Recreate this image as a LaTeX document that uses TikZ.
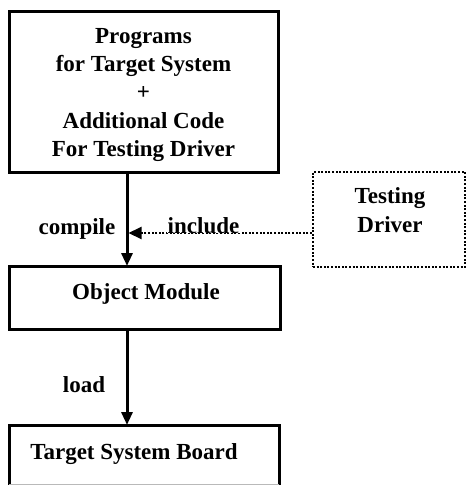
\documentclass[tikz,border=0pt]{standalone}
\usepackage{fontspec}
\setmainfont{Liberation Serif}
\usetikzlibrary{arrows.meta}
\begin{document}
\begin{tikzpicture}[x=1pt,y=-1pt,
  every node/.style={font=\fontsize{23}{28.3}\selectfont\bfseries, inner sep=0pt},
  solidbox/.style={draw, line width=3pt, align=center},
  dotbox/.style={draw, line width=2pt, dash pattern=on 2pt off 1.6pt, align=center},
  flow/.style={line width=3pt, -{Triangle[length=13pt,width=11pt]}},
  incl/.style={line width=2pt, dash pattern=on 2pt off 1.6pt, -{Triangle[length=13pt,width=12pt]}},
  lbl/.style={anchor=base}
]
\useasboundingbox (0,0) rectangle (466,487);

% main boxes
\node[solidbox, minimum width=269pt, minimum height=160pt] (prog) at (143.5,92) {};
\node[align=center] (progtxt) at (143.5,95)
  {Programs\\for Target System\\+\\Additional Code\\For Testing Driver};
\node[solidbox, minimum width=271pt, minimum height=63pt] (obj) at (144.5,297.5) {};
\node[anchor=base] (objtxt) at (146,299) {Object Module};
\node[dotbox, minimum width=152pt, minimum height=95pt] (tdrv) at (389,219.5) {};
\node[align=center] (tdrvtxt) at (390,210) {Testing\\Driver};

% target board box (bottom edge faint)
\coordinate (tb-nw) at (9,425);
\coordinate (tb-ne) at (279,425);
\coordinate (tb-sw) at (9,484.5);
\coordinate (tb-se) at (279,484.5);
\draw[line width=3pt] (tb-sw) -- (tb-nw) -- (tb-ne) -- (tb-se);
\draw[line width=1pt, gray!55] (tb-sw) -- (tb-se);
\node[anchor=base] (tbtxt) at (134,459) {Target System Board};

% connectors
\coordinate (objtop) at (127,266);
\coordinate (tbtop) at (127,425);
\coordinate (inc) at (128.5,233);
\draw[flow] (prog.south -| objtop) -- (objtop);
\draw[flow] (obj.south -| tbtop) -- (tbtop);
\draw[incl] (tdrv.west |- inc) -- (inc);

% labels
\node[lbl] (lcompile) at (77,234) {compile};
\node[lbl, fill=white, inner xsep=1pt] (linclude) at (203.5,233) {include};
\node[lbl] (lload) at (84,392) {load};
\end{tikzpicture}
\end{document}
